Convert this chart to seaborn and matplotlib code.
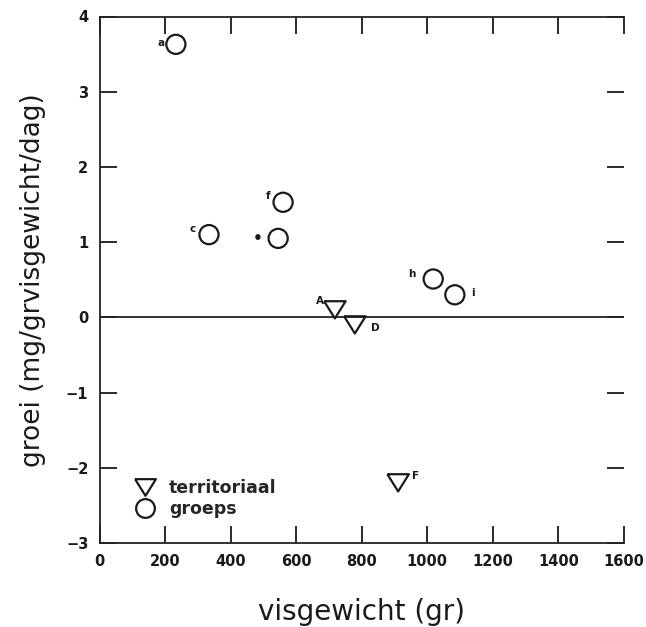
import matplotlib
matplotlib.use("Agg")
import matplotlib.pyplot as plt
import seaborn as sns
import pandas as pd
from matplotlib.lines import Line2D

# ---- data ----
groeps_labels = ["a", "c", "•", "f", "h", "i"]
groeps_x = [233, 334, 545, 560, 1018, 1084]
groeps_y = [3.63, 1.10, 1.05, 1.53, 0.51, 0.30]

terr_labels = ["A", "D", "F"]
terr_x = [718, 779, 911]
terr_y = [0.10, -0.10, -2.20]

x_ticks = [0, 200, 400, 600, 800, 1000, 1200, 1400, 1600]
y_ticks = [-3, -2, -1, 0, 1, 2, 3, 4]

sns.set_theme(style="ticks")
plt.rcParams['font.family'] = ['DejaVu Sans']

fig = plt.figure(figsize=(6.46, 6.27), dpi=100)
ax = fig.add_axes([99.5 / 646, 1 - 543 / 627, (624 - 99.5) / 646, (543 - 16.5) / 627])

df_g = pd.DataFrame({"x": groeps_x, "y": groeps_y})
df_t = pd.DataFrame({"x": terr_x, "y": terr_y})

tri = [(-1, 0.8), (1, 0.8), (0, -0.8), (-1, 0.8)]

ax.axhline(0, color="#222222", lw=1.3, zorder=1)

sns.scatterplot(data=df_g, x="x", y="y", ax=ax, marker="o", s=190,
                facecolors="none", edgecolor="#1a1a1a", linewidth=1.6, zorder=3)
sns.scatterplot(data=df_t, x="x", y="y", ax=ax, marker=tri, s=240,
                facecolors="none", edgecolor="#1a1a1a", linewidth=1.6, zorder=3)

g_off = [(-15, 1), (-16, 6), (-20, 0), (-15, 6), (-21, 5), (18, 2)]
for lab, x, y, off in zip(groeps_labels, groeps_x, groeps_y, g_off):
    fs = 11 if lab == "•" else 7.5
    ax.annotate(lab, (x, y), xytext=off, textcoords="offset pixels",
                ha="center", va="center", fontsize=fs, fontweight="bold", color="#1a1a1a")
t_off = [(-15, 9), (20, -3), (17, 7)]
for lab, x, y, off in zip(terr_labels, terr_x, terr_y, t_off):
    ax.annotate(lab, (x, y), xytext=off, textcoords="offset pixels",
                ha="center", va="center", fontsize=7.5, fontweight="bold", color="#1a1a1a")

ax.set_xlim(0, 1600)
ax.set_ylim(-3, 4)
ax.set_xticks(x_ticks)
ax.set_yticks(y_ticks)
ax.set_xticklabels([str(v) for v in x_ticks], fontsize=10.5, fontweight="bold")
ax.set_yticklabels([str(v).replace("-", "\u2212") for v in y_ticks], fontsize=10.5, fontweight="bold")
ax.tick_params(axis="both", which="major", direction="in", length=12, width=1.3,
               top=True, right=True, pad=8, colors="#1a1a1a")

for side in ["left", "bottom", "top"]:
    ax.spines[side].set_linewidth(1.3)
    ax.spines[side].set_color("#222222")
ax.spines["right"].set_visible(False)

ax.set_xlabel("visgewicht (gr)", fontsize=20, color="#1a1a1a")
ax.set_ylabel("groei (mg/grvisgewicht/dag)", fontsize=19, color="#1a1a1a")
ax.xaxis.set_label_coords(0.5, -0.131)
ax.xaxis.label.set_va("center")
ax.yaxis.set_label_coords(-0.127, 0.5)
ax.yaxis.label.set_va("center")

handles = [
    Line2D([], [], marker=tri, linestyle="none", markersize=15, markerfacecolor="none",
           markeredgecolor="#1a1a1a", markeredgewidth=1.6, label="territoriaal"),
    Line2D([], [], marker="o", linestyle="none", markersize=13.5, markerfacecolor="none",
           markeredgecolor="#1a1a1a", markeredgewidth=1.6, label="groeps"),
]
leg = ax.legend(handles=handles, loc="lower left", bbox_to_anchor=(0.04, 0.035),
                frameon=False, prop={"size": 12.5, "weight": "bold"},
                handletextpad=0.4, labelspacing=0.15, borderaxespad=0)

fig.savefig("out.png", dpi=100)
